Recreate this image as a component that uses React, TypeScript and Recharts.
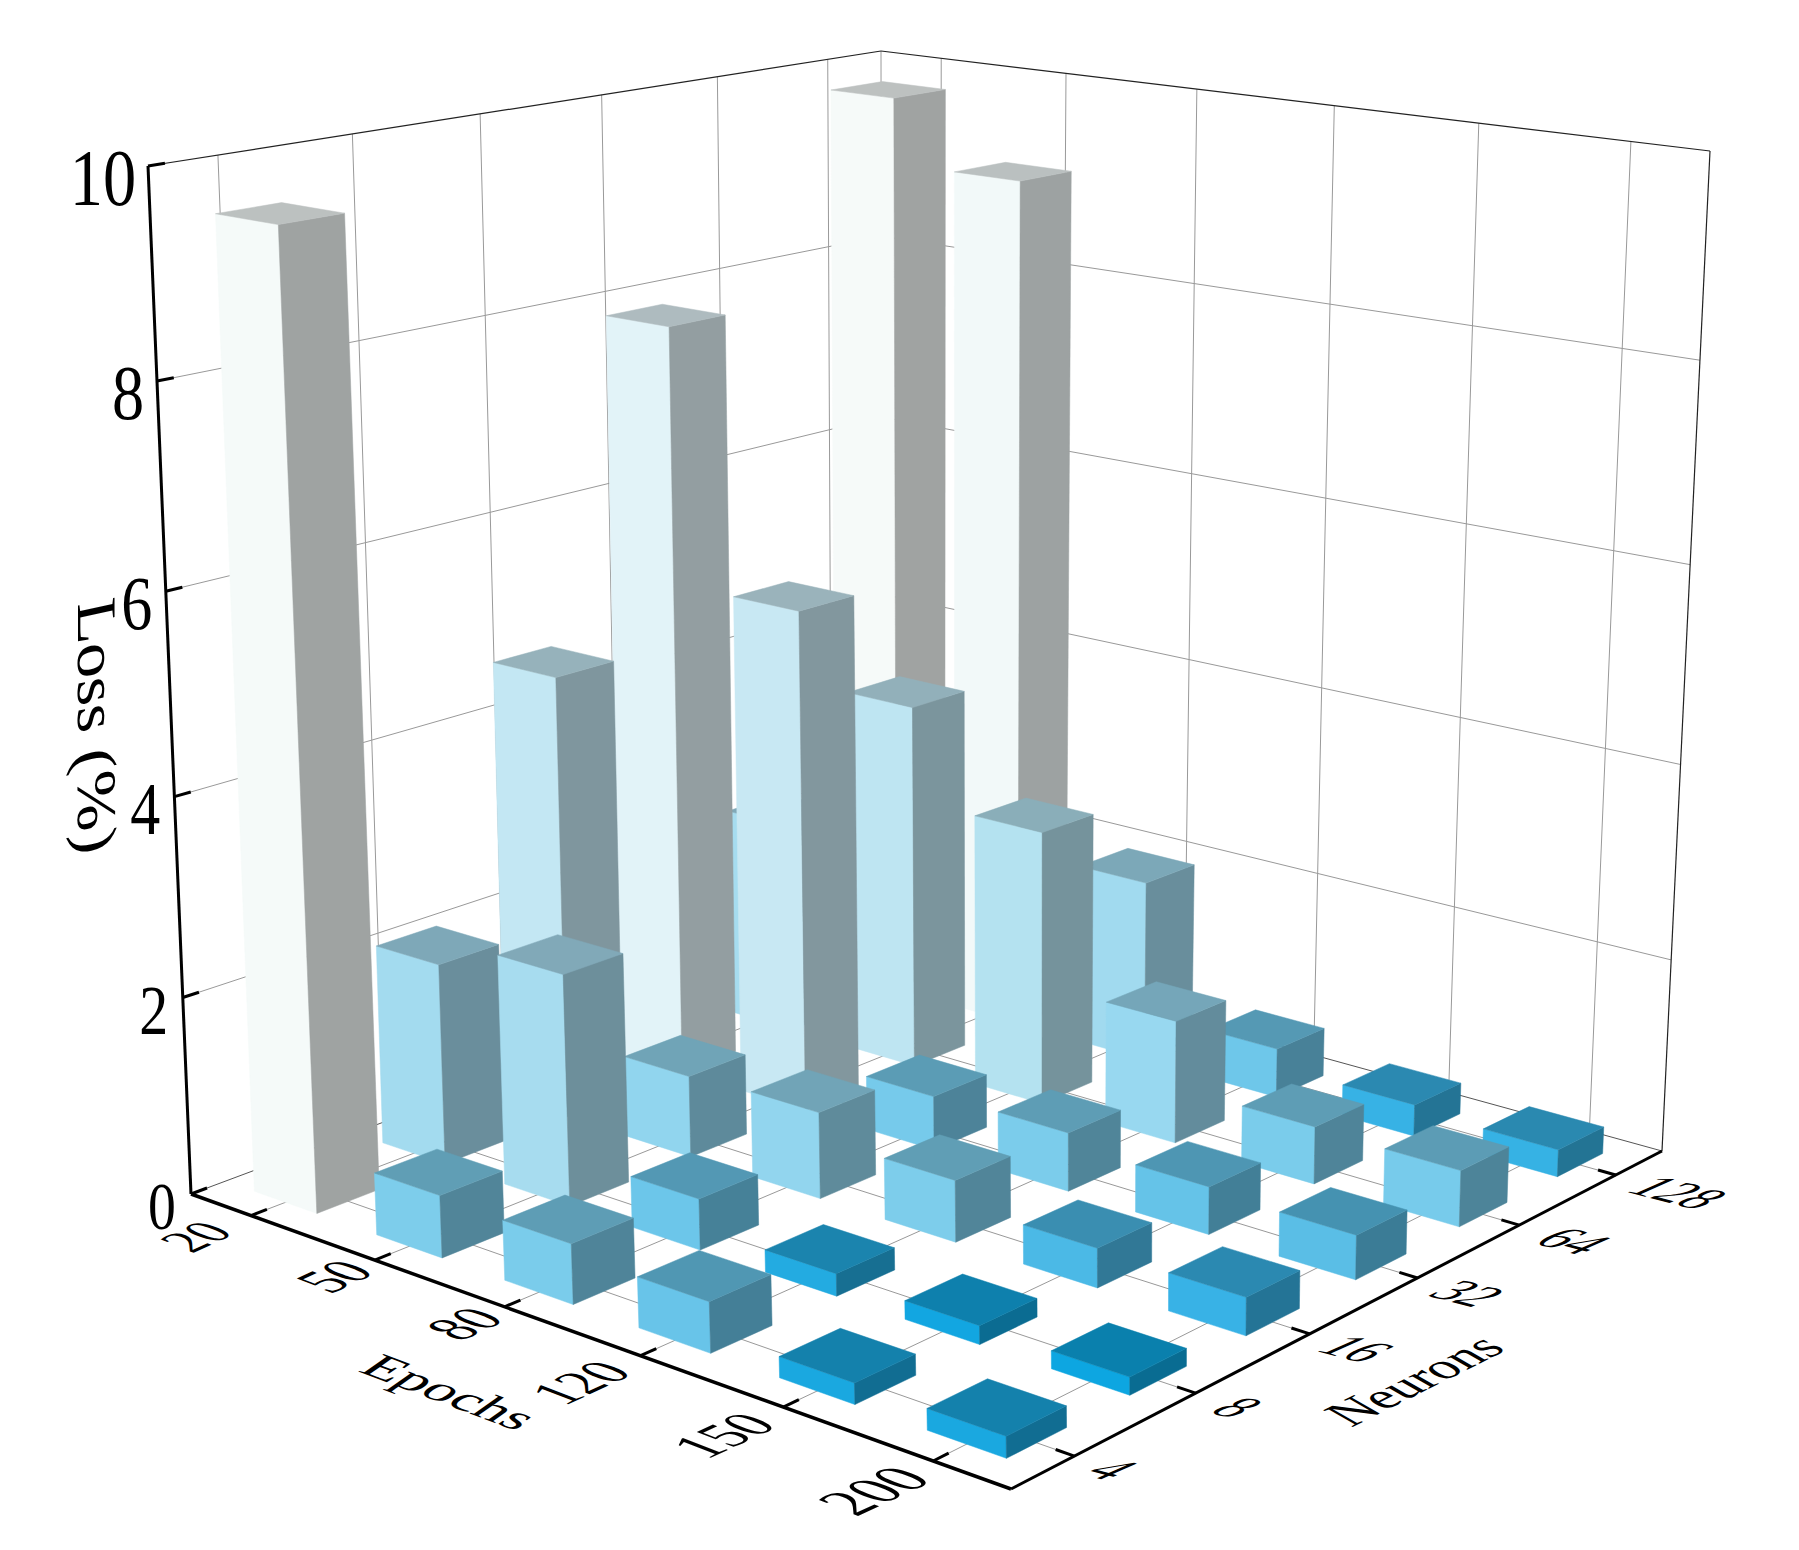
import React from 'react';
import { ScatterChart, Scatter, XAxis, YAxis } from 'recharts';

const WIDTH = 1799;
const HEIGHT = 1550;

// Categories and tick labels
const epochs = ['20', '50', '80', '120', '150', '200'];
const neurons = ['4', '8', '16', '32', '64', '128'];
const lossTicks = [0, 2, 4, 6, 8, 10];

// Loss (%) per epoch column, one list per neuron count
const lossN4 = [9.55, 0.62, 0.59, 0.49, 0.2, 0.2];
const lossN8 = [2.06, 2.34, 0.51, 0.22, 0.18, 0.17];
const lossN16 = [4.6, 0.84, 0.88, 0.62, 0.39, 0.37];
const lossN32 = [7.86, 5.23, 0.56, 0.6, 0.48, 0.44];
const lossN64 = [2.26, 3.88, 2.89, 1.28, 0.59, 0.57];
const lossN128 = [9.76, 9.08, 1.94, 0.52, 0.33, 0.28];
const lossRows = [lossN4, lossN8, lossN16, lossN32, lossN64, lossN128];

// colour map: loss -> front face colour
const colorStops: [number, number[]][] = [
  [0.15, [5, 164, 226]],
  [0.2, [26, 168, 224]],
  [0.26, [54, 178, 228]],
  [0.37, [56, 178, 230]],
  [0.39, [75, 185, 230]],
  [0.44, [90, 190, 230]],
  [0.49, [104, 196, 233]],
  [0.56, [118, 202, 235]],
  [0.62, [125, 205, 235]],
  [0.85, [146, 213, 238]],
  [1.28, [152, 216, 240]],
  [2.4, [168, 220, 239]],
  [2.9, [180, 226, 240]],
  [3.9, [190, 229, 242]],
  [5.2, [200, 232, 243]],
  [7.9, [226, 243, 248]],
  [9.1, [242, 249, 249]],
  [10, [247, 251, 249]],
];

const colorFor = (v: number) => {
  for (let k = 1; k < colorStops.length; k++) {
    if (v <= colorStops[k][0]) {
      const [v0, c0] = colorStops[k - 1];
      const [v1, c1] = colorStops[k];
      const t = Math.max(0, (v - v0) / (v1 - v0));
      return c0.map((c, n) => c + (c1[n] - c) * t);
    }
  }
  return colorStops[colorStops.length - 1][1];
};
const shade = (c: number[], f: number) => `rgb(${c.map(n => Math.round(n * f)).join(',')})`;

// The box: floor and lid corners on the page. u runs along Epochs, v along Neurons.
type Pt = { x: number; y: number };
const floorBox: Pt[] = [
  { x: 191, y: 1194 },
  { x: 1011, y: 1489 },
  { x: 1662, y: 1151 },
  { x: 882, y: 936 },
];
const lidBox: Pt[] = [
  { x: 148, y: 166 },
  { x: 995, y: 307 },
  { x: 1710, y: 151 },
  { x: 881, y: 51 },
];
const depthRatio = 0.945;

const squareToQuad = ([p00, p10, p11, p01]: Pt[]) => {
  const dx1 = p10.x - p11.x;
  const dx2 = p01.x - p11.x;
  const sx = p00.x - p10.x + p11.x - p01.x;
  const dy1 = p10.y - p11.y;
  const dy2 = p01.y - p11.y;
  const sy = p00.y - p10.y + p11.y - p01.y;
  const den = dx1 * dy2 - dx2 * dy1;
  const g = (sx * dy2 - dx2 * sy) / den;
  const h = (dx1 * sy - sx * dy1) / den;
  return (u: number, v: number): Pt => {
    const w = 1 + g * u + h * v;
    return {
      x: ((p10.x - p00.x + g * p10.x) * u + (p01.x - p00.x + h * p01.x) * v + p00.x) / w,
      y: ((p10.y - p00.y + g * p10.y) * u + (p01.y - p00.y + h * p01.y) * v + p00.y) / w,
    };
  };
};
const floorAt = squareToQuad(floorBox);
const lidAt = squareToQuad(lidBox);

// z is loss / 10
const project = (u: number, v: number, z: number): Pt => {
  const a = floorAt(u, v);
  const b = lidAt(u, v);
  const t = (z * depthRatio) / (1 - z + z * depthRatio);
  return { x: a.x + (b.x - a.x) * t, y: a.y + (b.y - a.y) * t };
};

const mid = (i: number) => (i + 0.5) / 6;
const HALF_U = 0.043;
const HALF_V = 0.04;

// bars from the back corner to the front one
const bars: any[] = [];
for (let j = 5; j >= 0; j--) {
  for (let i = 0; i < 6; i++) {
    const base = project(mid(i), mid(j), 0);
    bars.push({ ...base, u: mid(i), v: mid(j), loss: lossRows[j][i] });
  }
}

const polygon = (pts: Pt[], dx: number, dy: number) =>
  pts.map(p => `${p.x + dx},${p.y + dy}`).join(' ');

const BarShape = (props: any) => {
  const { cx, cy, payload } = props;
  const { u, v, loss } = payload;
  const z = loss / 10;
  const dx = cx - payload.x;
  const dy = cy - payload.y;
  const c = colorFor(loss);
  const u0 = u - HALF_U;
  const u1 = u + HALF_U;
  const v0 = v - HALF_V;
  const v1 = v + HALF_V;
  const faces = [
    { fill: shade(c, 1), pts: [project(u0, v0, 0), project(u1, v0, 0), project(u1, v0, z), project(u0, v0, z)] },
    { fill: shade(c, 0.65), pts: [project(u1, v0, 0), project(u1, v1, 0), project(u1, v1, z), project(u1, v0, z)] },
    { fill: shade(c, 0.77), pts: [project(u0, v0, z), project(u1, v0, z), project(u1, v1, z), project(u0, v1, z)] },
  ];
  return (
    <g>
      {faces.map((f, n) => (
        <polygon key={n} points={polygon(f.pts, dx, dy)} fill={f.fill} stroke={f.fill} strokeWidth={0.5} />
      ))}
    </g>
  );
};

const NoMark = () => <g />;

// Lines of the box
const seg = (a: Pt, b: Pt) => [a, b];
const gridLines: Pt[][] = [];
const frameDark: Pt[][] = [
  seg(project(0, 0, 0), project(0, 1, 0)),
  seg(project(0, 1, 0), project(1, 1, 0)),
];
const frameThin: Pt[][] = [
  seg(project(0, 0, 1), project(0, 1, 1)),
  seg(project(0, 1, 1), project(1, 1, 1)),
  seg(project(1, 1, 0), project(1, 1, 1)),
];
for (let k = 0; k < 6; k++) {
  const m = mid(k);
  gridLines.push(seg(project(0, m, 0), project(0, m, 1)));
  gridLines.push(seg(project(m, 1, 0), project(m, 1, 1)));
  gridLines.push(seg(project(m, 0, 0), project(m, 1, 0)));
  gridLines.push(seg(project(0, m, 0), project(1, m, 0)));
}
lossTicks.slice(1, 5).forEach(t => {
  gridLines.push(seg(project(0, 0, t / 10), project(0, 1, t / 10)));
  gridLines.push(seg(project(0, 1, t / 10), project(1, 1, t / 10)));
});
gridLines.push(seg(project(0, 1, 0), project(0, 1, 1)));

const axisLines: { pts: Pt[]; w: number }[] = [
  { pts: seg(project(0, 0, 0), project(0, 0, 1)), w: 3 },
  { pts: seg(project(0, 0, 0), project(1, 0, 0)), w: 3.5 },
  { pts: seg(project(1, 0, 0), project(1, 1, 0)), w: 3 },
];
for (let k = 0; k < 6; k++) {
  axisLines.push({ pts: seg(project(mid(k), 0, 0), project(mid(k), 0.02, 0)), w: 3 });
  axisLines.push({ pts: seg(project(1, mid(k), 0), project(0.98, mid(k), 0)), w: 3 });
}
lossTicks.forEach(t => {
  axisLines.push({ pts: seg(project(0, 0, t / 10), project(0, 0.02, t / 10)), w: 3 });
});

// Text lying on the box planes
type Label = Pt & { text: string; size: number };
const textShape = (m: number[]) => (props: any) => {
  const { cx, cy, payload } = props;
  return (
    <text
      transform={`matrix(${m.join(' ')} ${cx} ${cy})`}
      textAnchor="middle"
      dominantBaseline="central"
      fontFamily="'Liberation Serif', serif"
      fontSize={payload.size}
      fill="#000"
    >
      {payload.text}
    </text>
  );
};

const epochSizes = [58, 62, 62, 62, 64, 69];
const epochGaps = [0.068, 0.05, 0.05, 0.075, 0.075, 0.075];
const epochLabels: Label[] = epochs.map((text, i) => ({
  ...project(mid(i), -epochGaps[i], 0),
  text,
  size: epochSizes[i],
}));
const neuronGaps = [0.04, 0.045, 0.05, 0.055, 0.06, 0.07];
const neuronLabels: Label[] = neurons.map((text, j) => ({
  ...project(1 + neuronGaps[j], mid(j), 0),
  text,
  size: 57,
}));
const lossLabels: Label[] = lossTicks.map(t => {
  const p = project(0, 0, t / 10);
  const label = String(t);
  return { x: p.x - 13 - label.length * 16, y: p.y + 12, text: label, size: 68 + t * 1.3 };
});
const epochsTitle: Label[] = [{ x: 450, y: 1392, text: 'Epochs', size: 64 }];
const neuronsTitle: Label[] = [{ x: 1414, y: 1380, text: 'Neurons', size: 64 }];
const lossTitle: Label[] = [{ x: 97, y: 726, text: 'Loss (%)', size: 60 }];

const lineProps = { shape: NoMark, isAnimationActive: false };

export default function App() {
  return (
    <div style={{ position: 'absolute', left: 0, top: 0, width: WIDTH, height: HEIGHT, background: '#fff' }}>
      <ScatterChart width={WIDTH} height={HEIGHT} margin={{ top: 0, right: 0, bottom: 0, left: 0 }}>
        <XAxis type="number" dataKey="x" domain={[0, WIDTH]} hide />
        <YAxis type="number" dataKey="y" domain={[0, HEIGHT]} reversed hide />
        {gridLines.map((pts, n) => (
          <Scatter key={`g${n}`} data={pts} line={{ stroke: '#999', strokeWidth: 1 }} {...lineProps} />
        ))}
        {frameDark.map((pts, n) => (
          <Scatter key={`d${n}`} data={pts} line={{ stroke: '#555', strokeWidth: 1 }} {...lineProps} />
        ))}
        {frameThin.map((pts, n) => (
          <Scatter key={`f${n}`} data={pts} line={{ stroke: '#222', strokeWidth: 1.2 }} {...lineProps} />
        ))}
        {axisLines.map((l, n) => (
          <Scatter key={`a${n}`} data={l.pts} line={{ stroke: '#000', strokeWidth: l.w }} {...lineProps} />
        ))}
        <Scatter data={bars} shape={BarShape} isAnimationActive={false} />
        <Scatter data={epochLabels} shape={textShape([0.76, -0.35, 0.91, 0.35])} isAnimationActive={false} />
        <Scatter data={neuronLabels} shape={textShape([0.85, 0.22, -0.95, 0.42])} isAnimationActive={false} />
        <Scatter data={lossLabels} shape={textShape([0.82, 0, 0, 1])} isAnimationActive={false} />
        <Scatter data={epochsTitle} shape={textShape([0.85, 0.32, -0.6, 0.42])} isAnimationActive={false} />
        <Scatter data={neuronsTitle} shape={textShape([0.72, -0.36, 0.7, 0.4])} isAnimationActive={false} />
        <Scatter data={lossTitle} shape={textShape([0, 1.16, -0.93, 0.2])} isAnimationActive={false} />
      </ScatterChart>
    </div>
  );
}
